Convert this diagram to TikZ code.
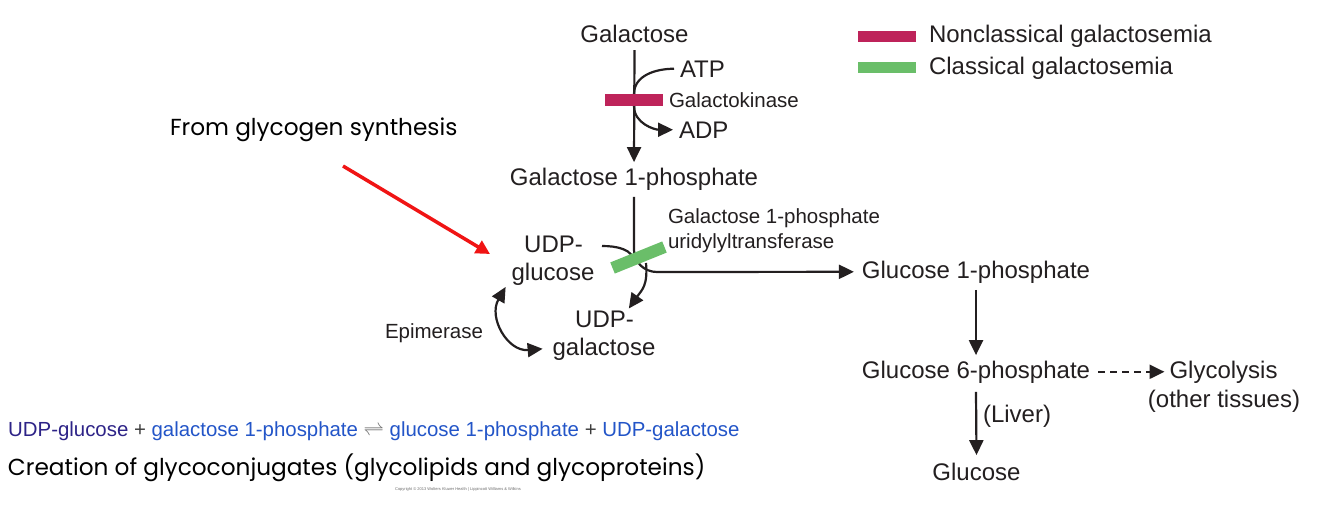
\documentclass[tikz,border=0pt]{standalone}
\usepackage{fontspec}
\setmainfont{Liberation Sans}
\newfontfamily\comicfont{Poppins}
\usetikzlibrary{arrows.meta}
\definecolor{txt}{RGB}{35,31,32}
\definecolor{crim}{RGB}{190,35,90}
\definecolor{grn}{RGB}{106,190,105}
\definecolor{redarr}{RGB}{240,20,20}
\definecolor{eqdark}{RGB}{45,35,135}
\definecolor{eqblue}{RGB}{35,85,200}
\definecolor{eqgray}{RGB}{60,60,60}
\definecolor{eqlgray}{RGB}{110,110,110}
\begin{document}
\begin{tikzpicture}[x=1pt,y=-1pt,
  lbl/.style={font=\fontsize{24}{28}\selectfont, text=txt, inner sep=0pt, outer sep=0pt},
  sml/.style={font=\fontsize{20.5}{24}\selectfont, text=txt, inner sep=0pt, outer sep=0pt},
  cmc/.style={font=\comicfont\fontsize{23.2}{27}\selectfont, text=black, inner sep=0pt, outer sep=0pt},
  ln/.style={draw=txt, line width=2.2pt},
  arr/.style={-{Triangle[length=15pt,width=14pt]}},
  darr/.style={{Triangle[length=15pt,width=14pt]}-{Triangle[length=15pt,width=14pt]}},
  enzbar/.style={minimum width=58pt, minimum height=12pt, inner sep=0pt, draw=none},
  legbar/.style={minimum width=58pt, minimum height=11pt, inner sep=0pt, draw=none, anchor=west}]
\useasboundingbox (0,0) rectangle (1334,528);
\fill[white] (0,0) rectangle (1334,528);

% main nodes
\node[lbl, anchor=base] (gal) at (634.5,42) {Galactose};
\node[lbl, anchor=base west] (atp) at (680,77) {ATP};
\node[lbl, anchor=base west] (adp) at (679,138) {ADP};
\node[sml, anchor=base west] (gkin) at (669,107) {Galactokinase};
\node[lbl, anchor=base] (g1p) at (634,185) {Galactose 1-phosphate};
\node[sml, anchor=base west] (gt1) at (668,223) {Galactose 1-phosphate};
\node[sml, anchor=base west] (gt2) at (668,248) {uridylyltransferase};
\node[lbl, anchor=base] (udpg1) at (553.5,252) {UDP-};
\node[lbl, anchor=base] (udpg2) at (553,280) {glucose};
\node[lbl, anchor=base] (udpgal1) at (604.5,327) {UDP-};
\node[lbl, anchor=base] (udpgal2) at (604,355) {galactose};
\node[sml, anchor=base east] (epim) at (483,338) {Epimerase};
\node[lbl, anchor=base] (glc1p) at (976,278) {Glucose 1-phosphate};
\node[lbl, anchor=base] (glc6p) at (976,378) {Glucose 6-phosphate};
\node[lbl, anchor=base] (glyc) at (1223.5,378) {Glycolysis};
\node[lbl, anchor=base] (glyc2) at (1224,407) {(other tissues)};
\node[lbl, anchor=base west] (liver) at (983,422) {(Liver)};
\node[lbl, anchor=base] (glc) at (976.5,480) {Glucose};

% legend
\node[legbar, fill=crim] (legc) at (858,36) {};
\node[legbar, fill=grn] (legg) at (858,67) {};
\node[lbl, anchor=base west] (legct) at (929,42) {Nonclassical galactosemia};
\node[lbl, anchor=base west] (leggt) at (929,74) {Classical galactosemia};

% comic annotations
\node[cmc, anchor=base west] (from) at (170,135) {From glycogen synthesis};
\node[cmc, anchor=base west] (creat) at (8,475) {Creation of glycoconjugates (glycolipids and glycoproteins)};
\node[font=\fontsize{4}{5}\selectfont, text=eqlgray, inner sep=0pt] (copy) at (458,489) {Copyright \textcopyright\ 2013 Wolters Kluwer Health | Lippincott Williams \& Wilkins};

% equation
\node[font=\fontsize{20.4}{24}\selectfont, inner sep=0pt, anchor=base west] (eq) at (8,436)
 {\textcolor{eqdark}{UDP-glucose} \textcolor{eqgray}{+} \textcolor{eqblue}{galactose 1-phosphate} \textcolor{eqlgray}{$\rightleftharpoons$} \textcolor{eqblue}{glucose 1-phosphate} \textcolor{eqgray}{+} \textcolor{eqblue}{UDP-galactose}};

% coordinates on the pathway
\coordinate (k1) at (634,94);
\coordinate (k2) at (634,106);
\coordinate (t1) at (634,250);
\coordinate (t2) at (657,272);
\coordinate (t3) at (634,263);
\coordinate (t4) at (646,263);
\coordinate (u1) at (602,246);
\coordinate (r1) at (343,166);
\coordinate (r2) at (490,254);

% connectors
\draw[ln, arr] ([yshift=-8pt]gal.south) -- ([yshift=5.5pt]g1p.north);
\draw[ln] ([xshift=-6pt]atp.west) to[out=180, in=90] (k1);
\draw[ln, arr] (k2) to[out=-90, in=180] ([xshift=-6pt]adp.west);
\draw[ln, arr] ([yshift=-7pt]g1p.south) -- (t1) to[out=-90, in=180] (t2) -- ([xshift=-8pt]glc1p.west);
\draw[ln] (u1) to[out=0, in=90] (t3);
\draw[ln, arr] (t4) to[out=-85, in=55, looseness=1.2] ([xshift=-5pt,yshift=2pt]udpgal1.north east);
\draw[ln, darr] ([xshift=-6pt,yshift=-2pt]udpg2.south west) to[out=240, in=185, looseness=1.25] ([xshift=-10pt]udpgal2.west);
\draw[ln, arr] ([yshift=-7pt]glc1p.south) -- ([yshift=5.5pt]glc6p.north);
\draw[ln, arr] ([yshift=-9pt]glc6p.south) -- ([yshift=7.5pt]glc.north);
\draw[ln, arr, dash pattern=on 7pt off 5pt] ([xshift=8pt]glc6p.east) -- ([xshift=-5pt]glyc.west);
\draw[draw=redarr, line width=3.5pt, -{Triangle[length=14pt,width=14pt]}] (r1) -- (r2);

% enzyme bars
\node[enzbar, fill=crim] (gkbar) at (634,99.5) {};
\node[enzbar, fill=grn, rotate=22, minimum width=56pt] (gtbar) at (638.5,257.5) {};
\end{tikzpicture}
\end{document}
